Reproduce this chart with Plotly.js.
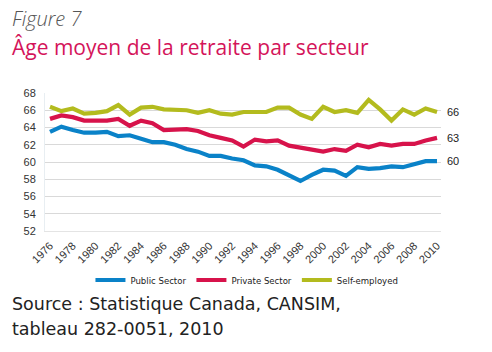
<!DOCTYPE html>
<html>
<head>
<meta charset="utf-8">
<script src="https://cdn.plot.ly/plotly-3.0.1.min.js"></script>
<style>
html,body{margin:0;padding:0;background:#fff;}
#chart{width:492px;height:352px;}
</style>
</head>
<body>
<div id="chart"></div>
<script>
var years = [1976,1977,1978,1979,1980,1981,1982,1983,1984,1985,1986,1987,1988,1989,1990,1991,1992,1993,1994,1995,1996,1997,1998,1999,2000,2001,2002,2003,2004,2005,2006,2007,2008,2009,2010];
var publicSector = [63.5,64.1,63.7,63.4,63.4,63.5,63.0,63.1,62.7,62.3,62.3,62.0,61.5,61.2,60.7,60.7,60.4,60.2,59.6,59.5,59.1,58.4,57.8,58.5,59.1,59.0,58.4,59.4,59.2,59.3,59.5,59.4,59.7,60.1,60.1];
var privateSector = [65.0,65.4,65.2,64.8,64.8,64.8,65.0,64.2,64.8,64.5,63.7,63.8,63.8,63.6,63.1,62.8,62.5,61.8,62.6,62.4,62.5,61.9,61.7,61.4,61.2,61.5,61.3,62.0,61.7,62.1,61.9,62.1,62.1,62.5,62.8];
var selfEmployed = [66.4,65.9,66.2,65.6,65.7,65.9,66.6,65.5,66.3,66.4,66.1,66.0,66.0,65.7,66.0,65.6,65.5,65.8,65.8,65.8,66.3,66.3,65.5,65.0,66.4,65.8,66.0,65.7,67.2,66.1,64.8,66.1,65.5,66.2,65.8];
var seriesNames = ["Public Sector","Private Sector","Self-employed"];
var endLabels = ["60","63","66"];
var yTicks = [52,54,56,58,60,62,64,66,68];
var xTicks = [1976,1978,1980,1982,1984,1986,1988,1990,1992,1994,1996,1998,2000,2002,2004,2006,2008,2010];
var figureLabel = "Figure 7";
var titleText = "Âge moyen de la retraite par secteur";
var sourceLine1 = "Source : Statistique Canada, CANSIM,";
var sourceLine2 = "tableau 282-0051, 2010";

var colors = ["#0a82c8","#d7134b","#b3bb1e"];
var allSeries = [publicSector, privateSector, selfEmployed];

var traces = allSeries.map(function(s,i){
  return {x: years, y: s, type:'scatter', mode:'lines', name: seriesNames[i],
    line:{color: colors[i], width:4.2}};
});

var annotations = allSeries.map(function(s,i){
  return {x: years[years.length-1], y: s[s.length-1], xref:'x', yref:'y',
    text: endLabels[i], showarrow:false, xanchor:'left', xshift:8,
    font:{family:'Liberation Sans, Arial, sans-serif', size:11, color:'#222'}};
});
annotations.push({xref:'paper', yref:'paper', x:-0.088, y:1.54, xanchor:'left', yanchor:'middle',
  text:'<i>'+figureLabel+'</i>', showarrow:false,
  font:{family:'Open Sans, sans-serif', size:20, color:'#555', weight:300}});
annotations.push({xref:'paper', yref:'paper', x:-0.088, y:1.33, xanchor:'left', yanchor:'middle',
  text:titleText, showarrow:false,
  font:{family:'Open Sans, sans-serif', size:21, color:'#d4145a'}});
annotations.push({xref:'paper', yref:'paper', x:-0.088, y:-0.528, xanchor:'left', yanchor:'middle',
  text:sourceLine1, showarrow:false,
  font:{family:'DejaVu Sans, sans-serif', size:17.5, color:'#222'}});
annotations.push({xref:'paper', yref:'paper', x:-0.088, y:-0.709, xanchor:'left', yanchor:'middle',
  text:sourceLine2, showarrow:false,
  font:{family:'DejaVu Sans, sans-serif', size:17.5, color:'#222'}});

var layout = {
  width:492, height:352,
  margin:{l:45, r:51, t:93, b:121, pad:0},
  paper_bgcolor:'#fff', plot_bgcolor:'#fff',
  showlegend:true,
  legend:{orientation:'h', x:0.51, xanchor:'center', y:-0.355, yanchor:'middle',
    font:{family:'DejaVu Sans Condensed, Liberation Sans Narrow, sans-serif', size:9.5, color:'#222'},
    itemwidth:30, tracegroupgap:0},
  xaxis:{range:[1975.56,2010.35], tickmode:'array', tickvals:xTicks, ticktext:xTicks.map(String),
    tickangle:-45, showgrid:false, zeroline:false, showline:true, linecolor:'#e4e4e4', linewidth:1,
    ticks:'', ticklabelstandoff:3, tickfont:{family:'Liberation Sans, Arial, sans-serif', size:11, color:'#333'}},
  yaxis:{range:[52,68], tickmode:'array', tickvals:yTicks, ticktext:yTicks.map(String),
    showgrid:true, gridcolor:'#d9d9d9', gridwidth:1, zeroline:false, showline:true,
    linecolor:'#e8eef2', linewidth:1, ticks:'', ticklabelstandoff:6,
    tickfont:{family:'Liberation Sans, Arial, sans-serif', size:11, color:'#333'}},
  annotations: annotations
};

Plotly.newPlot('chart', traces, layout, {displayModeBar:false, staticPlot:true});
</script>
</body>
</html>
